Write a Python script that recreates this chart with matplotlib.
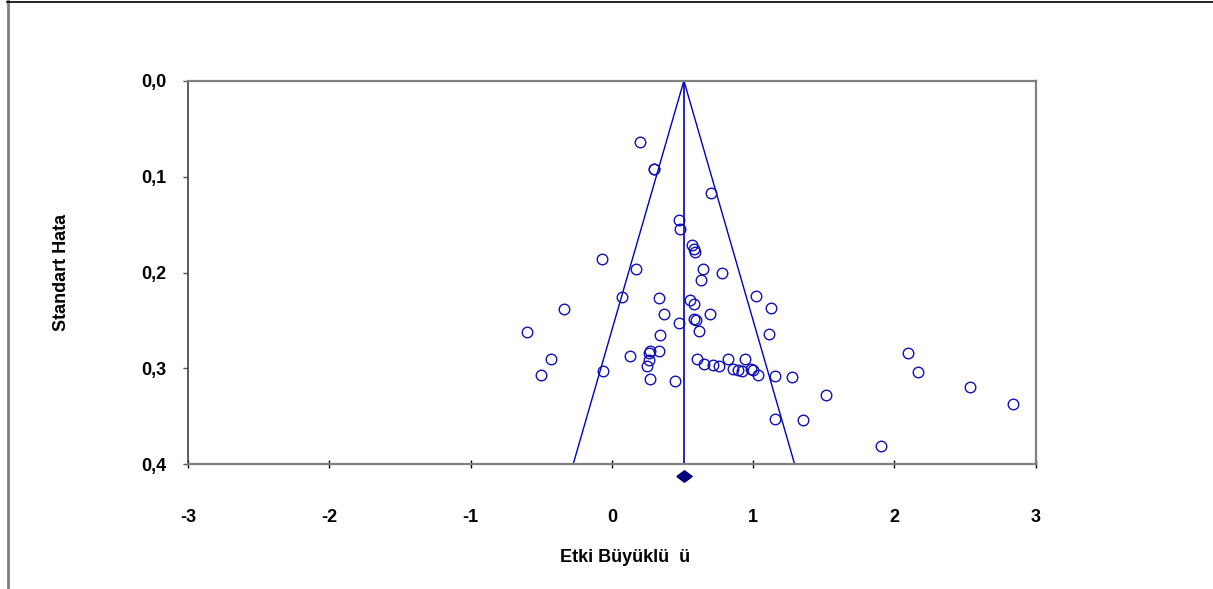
import matplotlib
matplotlib.use("Agg")
import matplotlib.pyplot as plt
from matplotlib.lines import Line2D
import numpy as np

# ---- data ----
effect = [0.201, 0.297, 0.300, 0.704, 0.472, 0.484, 0.569, 0.581, 0.588, -0.068,
          0.168, 0.645, 0.782, 0.633, 0.071, 0.331, 0.550, 0.581, 1.023, 1.124,
          0.371, 0.692, 0.583, 0.593, 0.472, 0.619, 1.110, 0.340, -0.064, 0.128,
          0.272, 0.331, 0.262, 0.262, 0.248, 0.267, 0.446, 0.605, 0.649, 0.718,
          0.758, 0.822, 0.945, 0.857, 0.892, 0.923, 0.987, 0.999, 1.037, 1.157,
          1.273, 1.518, 1.152, 1.351, 1.903, 2.099, 2.170, 2.538, 2.838, -0.340,
          -0.599, -0.429, -0.505]
std_err = [0.0636, 0.0924, 0.0920, 0.1174, 0.1453, 0.155, 0.1713, 0.176, 0.179, 0.186,
           0.196, 0.196, 0.201, 0.208, 0.226, 0.227, 0.229, 0.233, 0.224, 0.237,
           0.243, 0.243, 0.249, 0.250, 0.253, 0.261, 0.264, 0.265, 0.303, 0.287,
           0.282, 0.282, 0.284, 0.291, 0.298, 0.311, 0.313, 0.2905, 0.295, 0.2965,
           0.298, 0.290, 0.2905, 0.301, 0.3017, 0.3024, 0.301, 0.302, 0.3066, 0.3076,
           0.309, 0.3277, 0.353, 0.3538, 0.3806, 0.2836, 0.3034, 0.3194, 0.3371, 0.238,
           0.262, 0.290, 0.307]
mean_effect = 0.51
se_max = 0.4
z = 1.96
x_ticks = [-3, -2, -1, 0, 1, 2, 3]
x_tick_labels = ["-3", "-2", "-1", "0", "1", "2", "3"]
y_ticks = [0.0, 0.1, 0.2, 0.3, 0.4]
y_tick_labels = ["0,0", "0,1", "0,2", "0,3", "0,4"]

W, H = 1213, 589
fig = plt.figure(figsize=(W / 100, H / 100), dpi=100)
plt.rcParams['font.family'] = ['Liberation Sans', 'DejaVu Sans']

ax = fig.add_axes([188 / W, 1 - 464.3 / H, (1035.7 - 188) / W, (464.3 - 80.7) / H])

blue = '#1010B8'
line_blue = '#0000C0'

# funnel
ax.plot([mean_effect - z * se_max, mean_effect, mean_effect + z * se_max],
        [se_max, 0, se_max], color=line_blue, lw=1.0, zorder=2)
ax.plot([mean_effect, mean_effect], [0, se_max], color=line_blue, lw=1.2, zorder=2)

ax.plot(effect, std_err, linestyle='none', marker='o', markersize=7.6,
        markerfacecolor='none', markeredgecolor=blue, markeredgewidth=1.0, zorder=3)

# diamond summary
diamond = [(-1, 0), (0, 0.75), (1, 0), (0, -0.75), (-1, 0)]
ax.plot([mean_effect], [0.4122], linestyle='none', marker=diamond, markersize=11,
        color='#000080', clip_on=False, zorder=4)

ax.set_xlim(-3, 3)
ax.set_ylim(0.4, 0.0)
ax.set_xticks(x_ticks)
ax.set_xticklabels(x_tick_labels)
ax.set_yticks(y_ticks)
ax.set_yticklabels(y_tick_labels)

for lab in ax.get_xticklabels() + ax.get_yticklabels():
    lab.set_fontweight('bold')
    lab.set_fontsize(13)

ax.tick_params(axis='x', direction='inout', length=6, width=1, color='black', pad=29)
ax.tick_params(axis='y', direction='out', length=3.5, width=1, color='#555555', pad=12)

for side in ['top', 'right', 'bottom']:
    ax.spines[side].set_color('#808080')
    ax.spines[side].set_linewidth(1.6)
ax.spines['left'].set_color('#404040')
ax.spines['left'].set_linewidth(1.2)

fig.text(625 / W, 1 - 558 / H, "Etki Büyüklü  ü", ha='center', va='center',
         fontsize=13, fontweight='bold')
fig.text(62 / W, 1 - 272 / H, "Standart Hata", ha='center', va='center',
         rotation=90, fontsize=13, fontweight='bold')

# outer frame
fig.add_artist(Line2D([7.5 / W, 7.5 / W], [0, 1], transform=fig.transFigure,
                      color='#808080', lw=2))
fig.add_artist(Line2D([7 / W, 1], [1 - 1.5 / H, 1 - 1.5 / H], transform=fig.transFigure,
                      color='black', lw=1.2))

fig.savefig("out.png", dpi=100)
